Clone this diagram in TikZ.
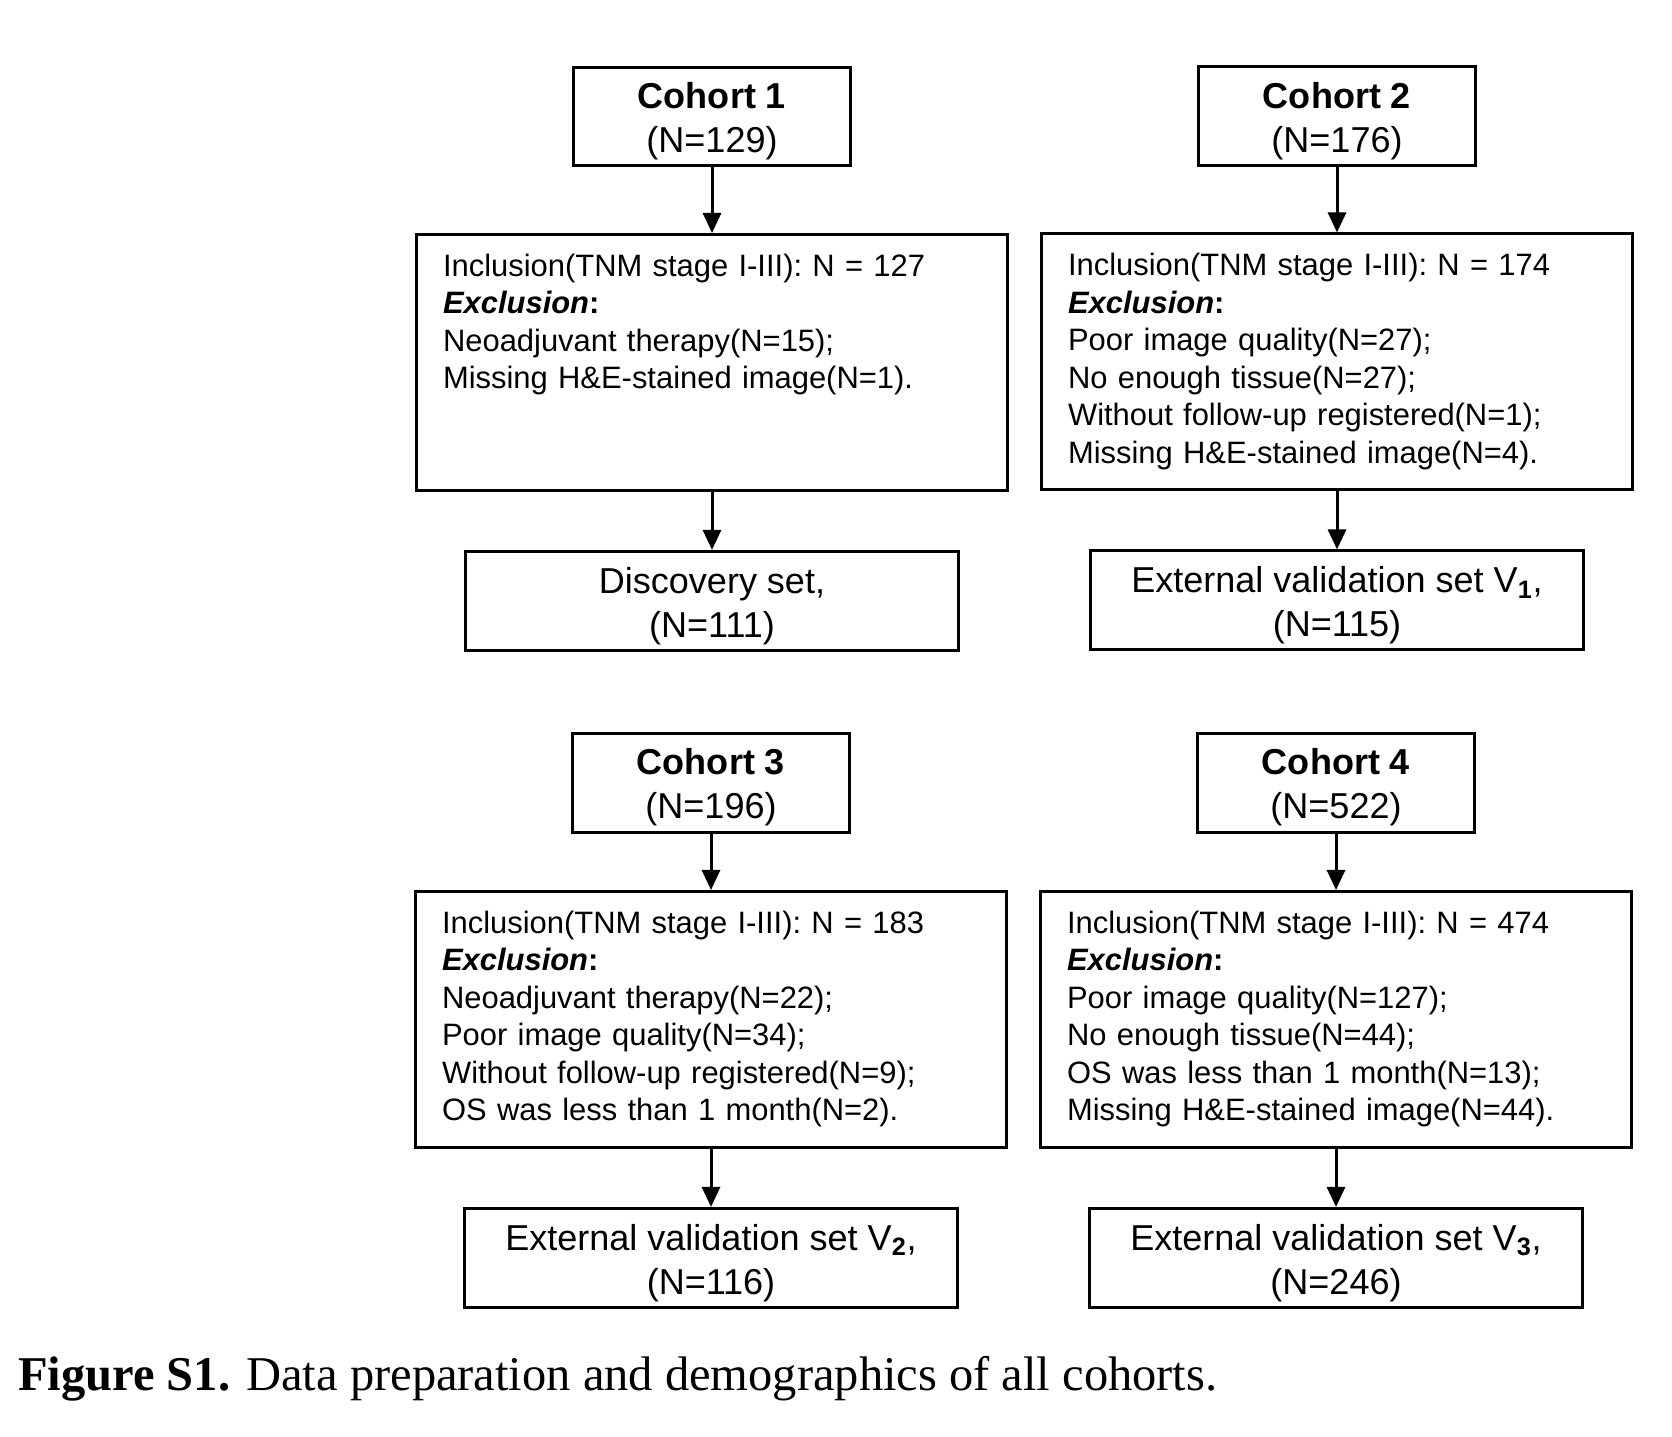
\documentclass[tikz,border=0pt]{standalone}
\usepackage{fontspec}
\setmainfont{Liberation Serif}
\setsansfont{Liberation Sans}
\usetikzlibrary{positioning,arrows.meta}
\begin{document}
\begin{tikzpicture}[x=0.02cm,y=-0.02cm,
  cohortbox/.style={draw,line width=0.06cm,minimum width=5.54cm,minimum height=1.98cm,
    inner ysep=0.04cm,text height=1.6cm,
    align=center,font=\sffamily\fontsize{20.5pt}{25pt}\selectfont},
  inclbox/.style={draw,line width=0.06cm,text width=10.76cm,inner xsep=0.54cm,
    inner ysep=0.4cm,text height=0.44cm,text depth=#1,align=left,
    font=\sffamily\fontsize{17.6pt}{21.3pt}\selectfont},
  inclbox/.default=3.88cm,
  setbox/.style={draw,line width=0.06cm,minimum width=9.86cm,minimum height=1.98cm,
    inner ysep=0.04cm,text height=1.6cm,
    align=center,font=\sffamily\fontsize{20.5pt}{25pt}\selectfont},
  flow/.style={-{Triangle[length=0.4cm,width=0.36cm]},line width=0.06cm}]
  \useasboundingbox (0,0) rectangle (1672,1436);
  % 第一组
  \node[cohortbox] (c1) at (712,116.5) {\textbf{Cohort 1}\\(N=129)};
  \node[inclbox,below=1.31cm of c1] (i1) {Inclusion(TNM stage I-III): N = 127\\
    \textbf{\textit{Exclusion}:}\\
    Neoadjuvant therapy(N=15);\\
    Missing H\&E-stained image(N=1).};
  \node[setbox,below=1.16cm of i1] (s1) {Discovery set,\\(N=111)};
  % 第二组
  \node[cohortbox] (c2) at (1337,116) {\textbf{Cohort 2}\\(N=176)};
  \node[inclbox,below=1.31cm of c2] (i2) {Inclusion(TNM stage I-III): N = 174\\
    \textbf{\textit{Exclusion}:}\\
    Poor image quality(N=27);\\
    No enough tissue(N=27);\\
    Without follow-up registered(N=1);\\
    Missing H\&E-stained image(N=4).};
  \node[setbox,below=1.16cm of i2] (s2) {External validation set V\textsubscript{\textbf{1}},\\(N=115)};
  % 第三组
  \node[cohortbox] (c3) at (711,782.5) {\textbf{Cohort 3}\\(N=196)};
  \node[inclbox,below=1.13cm of c3] (i3) {Inclusion(TNM stage I-III): N = 183\\
    \textbf{\textit{Exclusion}:}\\
    Neoadjuvant therapy(N=22);\\
    Poor image quality(N=34);\\
    Without follow-up registered(N=9);\\
    OS was less than 1 month(N=2).};
  \node[setbox,below=1.16cm of i3] (s3) {External validation set V\textsubscript{\textbf{2}},\\(N=116)};
  % 第四组
  \node[cohortbox] (c4) at (1336,782.5) {\textbf{Cohort 4}\\(N=522)};
  \node[inclbox,below=1.13cm of c4] (i4) {Inclusion(TNM stage I-III): N = 474\\
    \textbf{\textit{Exclusion}:}\\
    Poor image quality(N=127);\\
    No enough tissue(N=44);\\
    OS was less than 1 month(N=13);\\
    Missing H\&E-stained image(N=44).};
  \node[setbox,below=1.16cm of i4] (s4) {External validation set V\textsubscript{\textbf{3}},\\(N=246)};
  % 箭头
  \foreach \k in {1,2,3,4} {
    \draw[flow] (c\k) -- (i\k);
    \draw[flow] (i\k) -- (s\k);
  }
  % 图注
  \node[anchor=base west,inner sep=0pt,font=\rmfamily\fontsize{27.6pt}{33pt}\selectfont]
    (caption) at (18,1390) {\textbf{Figure S1.} Data preparation and demographics of all cohorts.};
\end{tikzpicture}
\end{document}
